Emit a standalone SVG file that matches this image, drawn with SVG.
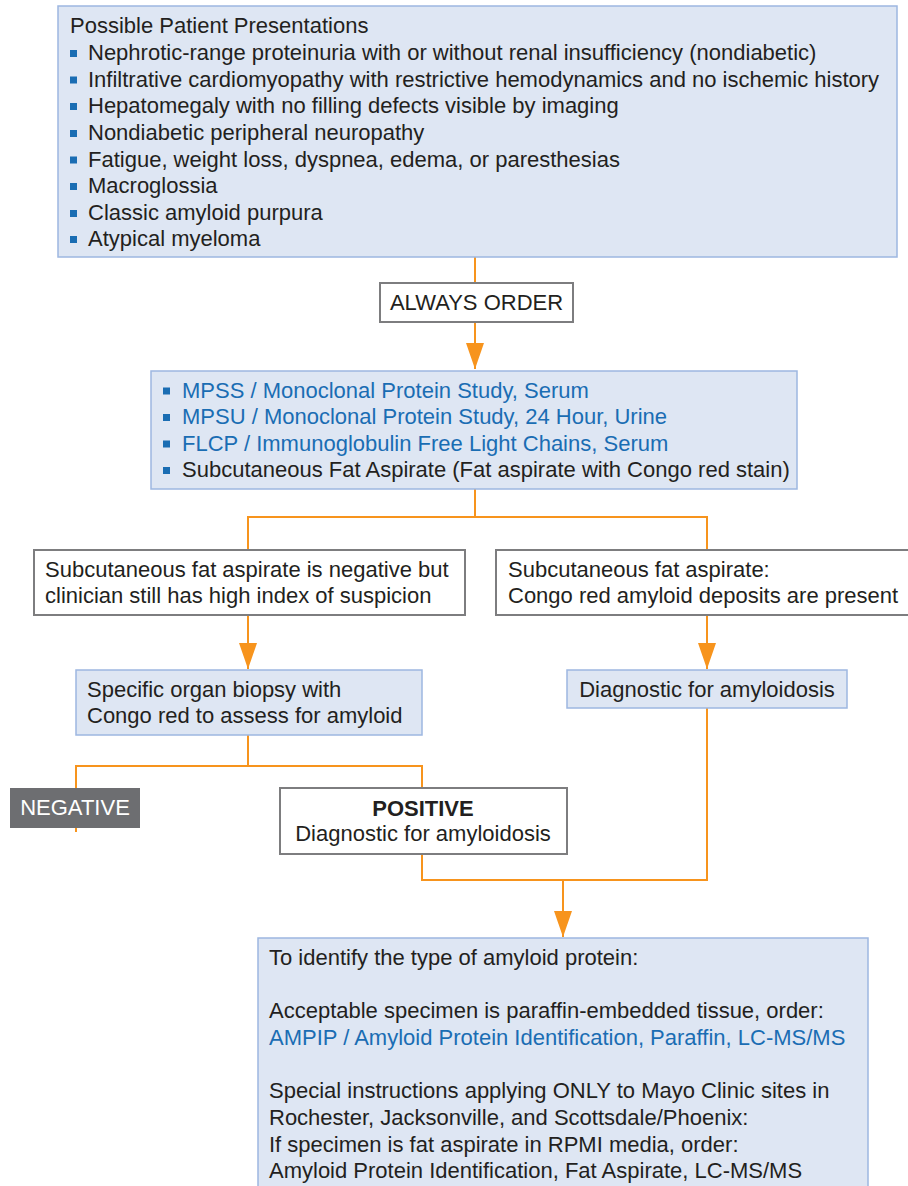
<svg xmlns="http://www.w3.org/2000/svg" width="908" height="1186" viewBox="0 0 908 1186">
<defs>
<style>
text{font-family:"Liberation Sans",Arial,sans-serif;font-size:22px;fill:#231f20}
.blue{fill:#1a6db3}
.bx{fill:#dee6f3;stroke:#9db7e1;stroke-width:1.5}
.gx{fill:#fff;stroke:#7d7d7f;stroke-width:2}
.bul{fill:#1a6db3}
.c{fill:none;stroke:#f7941d;stroke-width:2}
.w{fill:#fff}
.b{font-weight:bold}
</style>
<marker id="ah" viewBox="0 0 26 18" refX="26" refY="9" markerWidth="26" markerHeight="18" markerUnits="userSpaceOnUse" orient="auto">
<path d="M0,0 L26,9 L0,18 Z" fill="#f7941d"/>
</marker>
</defs>
<g id="connectors">
<line class="c" x1="475" y1="257" x2="475" y2="284"/>
<line class="c" x1="475" y1="322" x2="475" y2="369" marker-end="url(#ah)"/>
<polyline class="c" points="475,489 475,517"/>
<polyline class="c" points="248,549 248,517 707,517 707,549"/>
<line class="c" x1="248" y1="615" x2="248" y2="669" marker-end="url(#ah)"/>
<line class="c" x1="707" y1="615" x2="707" y2="669" marker-end="url(#ah)"/>
<polyline class="c" points="248,735 248,766"/>
<polyline class="c" points="76,832 76,766 422,766 422,788"/>
<polyline class="c" points="422,854 422,880 707,880 707,708"/>
<line class="c" x1="563" y1="880" x2="563" y2="937" marker-end="url(#ah)"/>
</g>
<g id="presentations">
<rect class="bx" x="58" y="6" width="839" height="251"/>
<text x="70" y="33">Possible Patient Presentations</text>
<rect class="bul" x="70" y="50" width="7" height="7"/>
<text x="88" y="60">Nephrotic-range proteinuria with or without renal insufficiency (nondiabetic)</text>
<rect class="bul" x="70" y="76.5" width="7" height="7"/>
<text x="88" y="86.5">Infiltrative cardiomyopathy with restrictive hemodynamics and no ischemic history</text>
<rect class="bul" x="70" y="103" width="7" height="7"/>
<text x="88" y="113">Hepatomegaly with no filling defects visible by imaging</text>
<rect class="bul" x="70" y="130" width="7" height="7"/>
<text x="88" y="140">Nondiabetic peripheral neuropathy</text>
<rect class="bul" x="70" y="156.5" width="7" height="7"/>
<text x="88" y="166.5">Fatigue, weight loss, dyspnea, edema, or paresthesias</text>
<rect class="bul" x="70" y="183" width="7" height="7"/>
<text x="88" y="193">Macroglossia</text>
<rect class="bul" x="70" y="210" width="7" height="7"/>
<text x="88" y="220">Classic amyloid purpura</text>
<rect class="bul" x="70" y="236" width="7" height="7"/>
<text x="88" y="246">Atypical myeloma</text>
</g>
<g id="always-order">
<rect class="gx" x="380" y="283" width="193" height="39"/>
<text x="476.5" y="310" text-anchor="middle">ALWAYS ORDER</text>
</g>
<g id="tests">
<rect class="bx" x="151" y="371" width="646" height="118"/>
<rect class="bul" x="163" y="387.5" width="7" height="7"/>
<text class="blue" x="182" y="397.5">MPSS / Monoclonal Protein Study, Serum</text>
<rect class="bul" x="163" y="414" width="7" height="7"/>
<text class="blue" x="182" y="424">MPSU / Monoclonal Protein Study, 24 Hour, Urine</text>
<rect class="bul" x="163" y="440.5" width="7" height="7"/>
<text class="blue" x="182" y="450.5">FLCP / Immunoglobulin Free Light Chains, Serum</text>
<rect class="bul" x="163" y="467" width="7" height="7"/>
<text x="182" y="477">Subcutaneous Fat Aspirate (Fat aspirate with Congo red stain)</text>
</g>
<g id="negative-suspicion">
<rect class="gx" x="34" y="550" width="431" height="65"/>
<text x="45" y="577">Subcutaneous fat aspirate is negative but</text>
<text x="45" y="603">clinician still has high index of suspicion</text>
</g>
<g id="positive-aspirate">
<rect class="gx" x="496" y="550" width="420" height="65"/>
<text x="508" y="577">Subcutaneous fat aspirate:</text>
<text x="508" y="603">Congo red amyloid deposits are present</text>
</g>
<g id="biopsy">
<rect class="bx" x="76" y="670" width="346" height="65"/>
<text x="87" y="697">Specific organ biopsy with</text>
<text x="87" y="723">Congo red to assess for amyloid</text>
</g>
<g id="diagnostic">
<rect class="bx" x="567" y="670" width="280" height="38"/>
<text x="707" y="697" text-anchor="middle">Diagnostic for amyloidosis</text>
</g>
<g id="negative">
<rect x="10" y="788" width="130" height="40" fill="#6d6e71"/>
<text class="w" x="75" y="815" text-anchor="middle">NEGATIVE</text>
</g>
<g id="positive">
<rect class="gx" x="280" y="788" width="287" height="66"/>
<text class="b" x="423" y="816" text-anchor="middle">POSITIVE</text>
<text x="423" y="841" text-anchor="middle">Diagnostic for amyloidosis</text>
</g>
<g id="identify">
<rect class="bx" x="258" y="938" width="610" height="260"/>
<text x="269" y="965">To identify the type of amyloid protein:</text>
<text x="269" y="1018">Acceptable specimen is paraffin-embedded tissue, order:</text>
<text class="blue" x="269" y="1045">AMPIP / Amyloid Protein Identification, Paraffin, LC-MS/MS</text>
<text x="269" y="1098">Special instructions applying ONLY to Mayo Clinic sites in</text>
<text x="269" y="1125">Rochester, Jacksonville, and Scottsdale/Phoenix:</text>
<text x="269" y="1152">If specimen is fat aspirate in RPMI media, order:</text>
<text x="269" y="1178">Amyloid Protein Identification, Fat Aspirate, LC-MS/MS</text>
</g>
</svg>
